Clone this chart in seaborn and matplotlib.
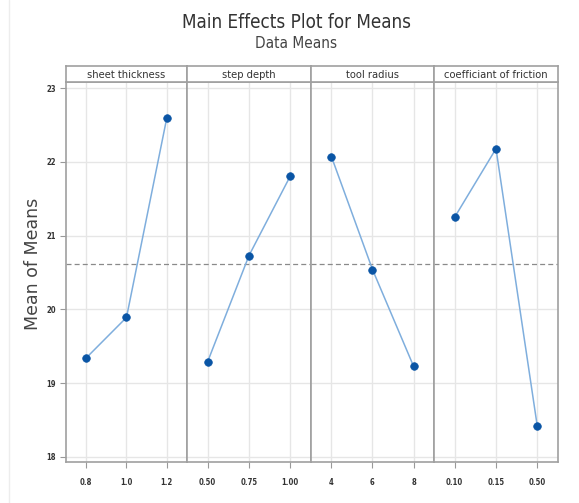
import matplotlib
matplotlib.use("Agg")
import matplotlib.pyplot as plt
import seaborn as sns
import numpy as np
import pandas as pd
from matplotlib.lines import Line2D

# ---- data ----
factors = ["sheet thickness", "step depth", "tool radius", "coefficiant of friction"]
sheet_levels = ["0.8", "1.0", "1.2"]
sheet_means = [19.34, 19.89, 22.60]
step_levels = ["0.50", "0.75", "1.00"]
step_means = [19.29, 20.73, 21.81]
radius_levels = ["4", "6", "8"]
radius_means = [22.07, 20.54, 19.23]
friction_levels = ["0.10", "0.15", "0.50"]
friction_means = [21.25, 22.18, 18.41]
grand_mean = 20.61
y_ticks = [18, 19, 20, 21, 22, 23]

levels_all = [sheet_levels, step_levels, radius_levels, friction_levels]
means_all = [sheet_means, step_means, radius_means, friction_means]

rows = []
for f, lv, mv in zip(factors, levels_all, means_all):
    for i, (l, m) in enumerate(zip(lv, mv)):
        rows.append({"factor": f, "level": l, "pos": i, "mean": m})
df = pd.DataFrame(rows)

sns.set_theme(style="white")
narrow = ["DejaVu Sans"]
plt.rcParams["font.family"] = narrow
COND = "condensed"

W, H = 579, 503
fig = plt.figure(figsize=(W / 100, H / 100), dpi=100)

xs = [66, 187, 311, 434, 558]
plot_top, plot_bot, head_top = 82.3, 462.3, 66
border = "#A0A0A0"
grid_c = "#E6E6E6"
line_c = "#7FAEDD"
mark_c = "#0A55A5"

axes = []
for k, f in enumerate(factors):
    x0, x1 = xs[k] / W, xs[k + 1] / W
    ax = fig.add_axes([x0, (H - plot_bot) / H, x1 - x0, (plot_bot - plot_top) / H])
    axes.append(ax)
    sub = df[df["factor"] == f]
    ax.set_xlim(-0.5, 2.5)
    ax.set_ylim(17.924, 23.081)
    for p in sub["pos"]:
        ax.axvline(p, color=grid_c, lw=1, zorder=0)
    for yv in y_ticks:
        ax.axhline(yv, color=grid_c, lw=1, zorder=0)
    ax.axhline(grand_mean, color="#8A8A8A", lw=0.9, ls=(0, (4, 2.5)), zorder=1)
    sns.lineplot(data=sub, x="pos", y="mean", ax=ax, color=line_c, lw=1.1,
                 zorder=2, legend=False)
    sns.scatterplot(data=sub, x="pos", y="mean", ax=ax, color=mark_c, s=30,
                    edgecolor=mark_c, linewidth=0.5, zorder=3, legend=False)
    ax.set_xticks(sub["pos"].tolist())
    ax.set_xticklabels(sub["level"].tolist(), fontsize=5.5, color="#333333",
                       fontstretch=COND, fontweight="bold")
    ax.set_xlabel("")
    ax.set_ylabel("")
    ax.tick_params(axis="x", length=4, width=0.8, color="#999999", pad=7, bottom=True)
    if k == 0:
        ax.set_yticks(y_ticks)
        ax.set_yticklabels([str(v) for v in y_ticks], fontsize=5.5, color="#333333",
                           fontstretch=COND, fontweight="bold")
        ax.tick_params(axis="y", length=4, width=0.8, color="#999999", pad=3, left=True)
    else:
        ax.set_yticks(y_ticks)
        ax.tick_params(axis="y", length=0, labelleft=False)
    for s in ax.spines.values():
        s.set_color(border)
        s.set_linewidth(1.2)
    ax.set_facecolor("white")

    hax = fig.add_axes([x0, (H - plot_top) / H, x1 - x0, (plot_top - head_top) / H])
    hax.set_xticks([])
    hax.set_yticks([])
    for s in hax.spines.values():
        s.set_color(border)
        s.set_linewidth(1.2)
    hax.text(0.5, 0.45, f, ha="center", va="center", fontsize=8, color="#333333",
             fontstretch=COND, transform=hax.transAxes)

fig.text(296 / W, 1 - 22 / H, "Main Effects Plot for Means", ha="center", va="center",
         fontsize=13.5, color="#333333", fontstretch=COND)
fig.text(296 / W, 1 - 43 / H, "Data Means", ha="center", va="center",
         fontsize=11, color="#444444", fontstretch=COND)
fig.text(33 / W, 1 - 264 / H, "Mean of Means", ha="center", va="center",
         rotation=90, fontsize=12.5, color="#444444", fontweight="medium")

fig.add_artist(Line2D([9 / W, 9 / W], [0, 1], transform=fig.transFigure,
                      color="#EDEDED", lw=1))

fig.savefig("out.png", dpi=100)
